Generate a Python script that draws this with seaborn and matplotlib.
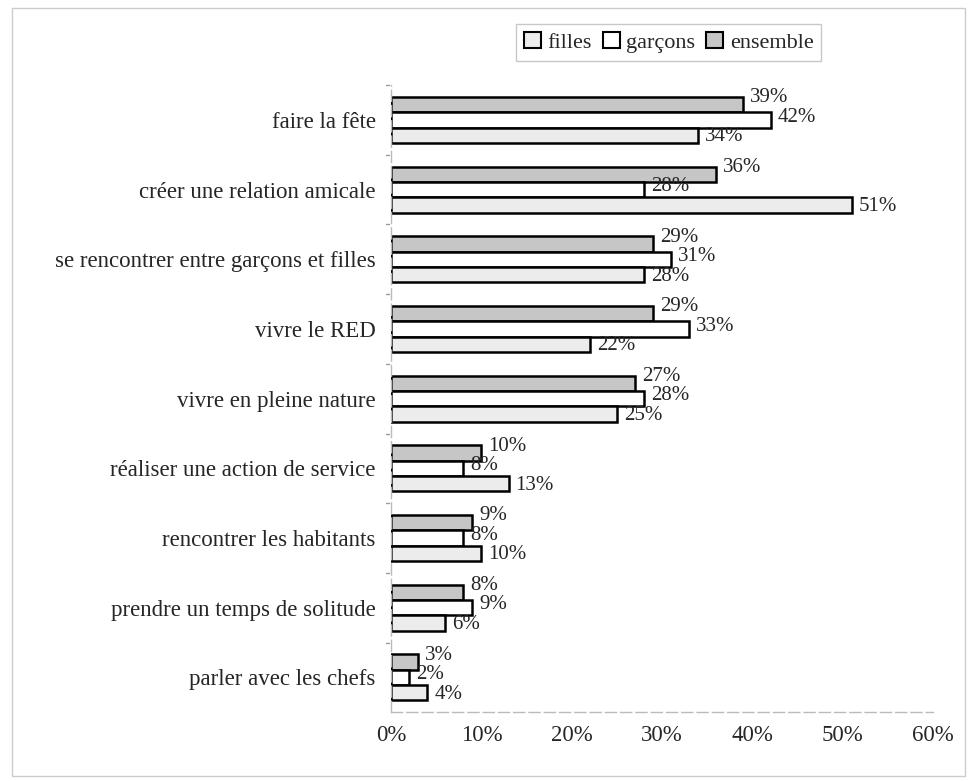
import pandas as pd
import matplotlib.pyplot as plt
import seaborn as sns
from matplotlib.patches import Patch, Rectangle

categories = [
    'faire la fête',
    'créer une relation amicale',
    'se rencontrer entre garçons et filles',
    'vivre le RED',
    'vivre en pleine nature',
    'réaliser une action de service',
    'rencontrer les habitants',
    'prendre un temps de solitude',
    'parler avec les chefs',
]
ensemble = [39, 36, 29, 29, 27, 10, 9, 8, 3]
garcons = [42, 28, 31, 33, 28, 8, 8, 9, 2]
filles = [34, 51, 28, 22, 25, 13, 10, 6, 4]
x_ticks = [0, 10, 20, 30, 40, 50, 60]

def build_frame():
    rows = []
    for name, vals in [('ensemble', ensemble), ('garçons', garcons), ('filles', filles)]:
        for cat, v in zip(categories, vals):
            rows.append({'categorie': cat, 'serie': name, 'valeur': v})
    return pd.DataFrame(rows)

def draw(df):
    sns.set_style('white')
    plt.rcParams['font.family'] = ['Liberation Serif', 'DejaVu Serif']

    colors = {'ensemble': '#c6c6c6', 'garçons': '#ffffff', 'filles': '#ececec'}
    fig = plt.figure(figsize=(9.68, 7.81), dpi=100)
    ax = fig.add_axes([0.404, 0.088, 0.56, 0.803])

    sns.barplot(data=df, y='categorie', x='valeur', hue='serie',
                hue_order=['ensemble', 'garçons', 'filles'], palette=colors,
                orient='h', width=0.66, edgecolor='black', linewidth=1.8,
                legend=False, ax=ax)

    # value labels, slightly shifted like in the original
    offsets = [5, 2, -1]
    for cont, dy in zip(ax.containers, offsets):
        for bar in cont:
            w = bar.get_width()
            ax.annotate(f'{w:.0f}%', (w, bar.get_y() + bar.get_height() / 2),
                        xytext=(5, dy), textcoords='offset points',
                        ha='left', va='center', fontsize=15)

    ax.set_xlim(0, 60)
    ax.set_ylim(len(categories) - 0.5, -0.5)
    ax.set_xticks(x_ticks)
    ax.set_xticklabels([f'{t}%' for t in x_ticks], fontsize=16.5)
    ax.set_yticks(range(len(categories)))
    ax.set_yticklabels(categories, fontsize=16.5)
    ax.set_xlabel('')
    ax.set_ylabel('')
    ax.tick_params(axis='x', length=0, pad=9)
    ax.tick_params(axis='y', length=0, pad=11)

    # little ticks between groups on the y axis
    for b in range(len(categories)):
        ax.plot([-0.6, -0.2], [b - 0.5, b - 0.5], color='#999999', lw=1,
                clip_on=False)

    for side in ['top', 'right']:
        ax.spines[side].set_visible(False)
    for side in ['left', 'bottom']:
        ax.spines[side].set_color('#bbbbbb')
        ax.spines[side].set_linewidth(1)
        ax.spines[side].set_linestyle((0, (8, 3)))

    handles = [Patch(facecolor=colors[n], edgecolor='black', linewidth=1.5)
               for n in ['filles', 'garçons', 'ensemble']]
    leg = fig.legend(handles, ['filles', 'garçons', 'ensemble'], ncol=3,
                     loc='upper left', bbox_to_anchor=(0.522, 0.983),
                     fontsize=16, frameon=True, fancybox=False,
                     handlelength=0.75, handleheight=0.75, handletextpad=0.3,
                     columnspacing=0.5, borderpad=0.35)
    leg.get_frame().set_edgecolor('#bbbbbb')
    leg.get_frame().set_linewidth(1)

    fig.patches.append(Rectangle((0.012, 0.006), 0.985, 0.984,
                                 transform=fig.transFigure, fill=False,
                                 edgecolor='#cccccc', linewidth=1))

    fig.savefig('out.png', dpi=100)

draw(build_frame())
